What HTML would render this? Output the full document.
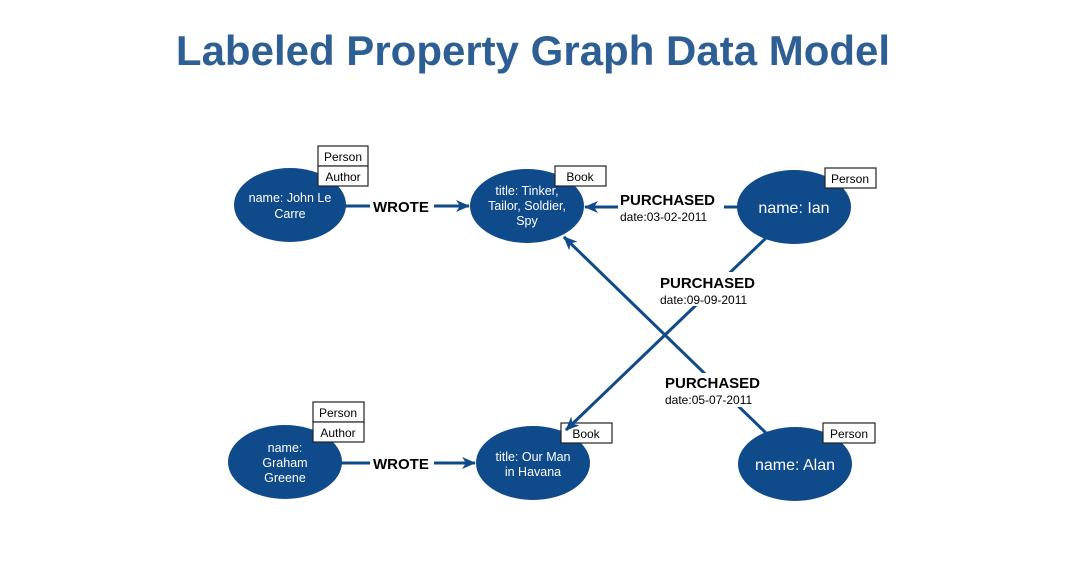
<!DOCTYPE html>
<html><head><meta charset="utf-8"><style>
html,body{margin:0;padding:0;background:#fff;}
</style></head><body>
<svg width="1066" height="580" viewBox="0 0 1066 580" xmlns="http://www.w3.org/2000/svg" font-family="Liberation Sans, Arial, sans-serif">
<defs>
<marker id="a" markerWidth="14" markerHeight="14" refX="13" refY="7" orient="auto" markerUnits="userSpaceOnUse">
<path d="M0,1 L14,7 L0,13 L4,7 Z" fill="#0f4a8a"/></marker>
</defs>
<text x="533" y="65" text-anchor="middle" font-size="42" font-weight="bold" fill="#2d5f94">Labeled Property Graph Data Model</text>

<g stroke="#0f4a8a" stroke-width="3" fill="none">
<line x1="345" y1="206" x2="370" y2="206"/>
<line x1="434" y1="206" x2="469" y2="206" marker-end="url(#a)"/>
<line x1="340" y1="463" x2="370" y2="463"/>
<line x1="434" y1="463" x2="475" y2="463" marker-end="url(#a)"/>
<line x1="740" y1="207" x2="724" y2="207"/>
<line x1="618" y1="207" x2="585" y2="207" marker-end="url(#a)"/>
<line x1="766" y1="433" x2="564" y2="237" marker-end="url(#a)"/>
</g>

<g fill="#0f4a8a">
<ellipse cx="290" cy="205" rx="56" ry="37"/>
<ellipse cx="527" cy="206" rx="57" ry="37"/>
<ellipse cx="794" cy="207" rx="57" ry="37"/>
<ellipse cx="285" cy="462" rx="57" ry="37"/>
<ellipse cx="533" cy="463" rx="57" ry="37"/>
<ellipse cx="795" cy="464" rx="57" ry="37"/>
</g>

<g fill="#fff" stroke="#222" stroke-width="1.2">
<rect x="318" y="146" width="50" height="20"/><rect x="318" y="166" width="50" height="20"/>
<rect x="555" y="166" width="51" height="20"/>
<rect x="825" y="168" width="51" height="20"/>
<rect x="313" y="402" width="51" height="20"/><rect x="313" y="422" width="51" height="20"/>
<rect x="561" y="423" width="51" height="20"/>
<rect x="823" y="423" width="52" height="20"/>
</g>

<line x1="766" y1="238" x2="566" y2="430" stroke="#0f4a8a" stroke-width="3" marker-end="url(#a)"/>

<g fill="#fff">
<rect x="656" y="272" width="106" height="34"/>
<rect x="662" y="373" width="106" height="34"/>
</g>

<g font-size="12" fill="#000" text-anchor="middle">
<text x="343" y="161">Person</text><text x="343" y="181">Author</text>
<text x="580" y="181">Book</text>
<text x="850" y="183">Person</text>
<text x="338" y="417">Person</text><text x="338" y="437">Author</text>
<text x="586" y="438">Book</text>
<text x="849" y="438">Person</text>
</g>

<g fill="#fff" text-anchor="middle" font-size="12.5">
<text x="290" y="202">name: John Le</text><text x="290" y="218">Carre</text>
<text x="527" y="195">title: Tinker,</text><text x="527" y="210">Tailor, Soldier,</text><text x="527" y="225">Spy</text>
<text x="794" y="213" font-size="16">name: Ian</text>
<text x="285" y="452">name:</text><text x="285" y="467">Graham</text><text x="285" y="482">Greene</text>
<text x="533" y="461">title: Our Man</text><text x="533" y="476">in Havana</text>
<text x="795" y="470" font-size="16">name: Alan</text>
</g>

<g fill="#000">
<text x="373" y="212" font-size="15" font-weight="bold">WROTE</text>
<text x="373" y="469" font-size="15" font-weight="bold">WROTE</text>
<text x="620" y="205" font-size="15" font-weight="bold">PURCHASED</text>
<text x="620" y="221" font-size="12">date:03-02-2011</text>
<text x="660" y="288" font-size="15" font-weight="bold">PURCHASED</text>
<text x="660" y="304" font-size="12">date:09-09-2011</text>
<text x="665" y="388" font-size="15" font-weight="bold">PURCHASED</text>
<text x="665" y="404" font-size="12">date:05-07-2011</text>
</g>
</svg>
</body></html>
